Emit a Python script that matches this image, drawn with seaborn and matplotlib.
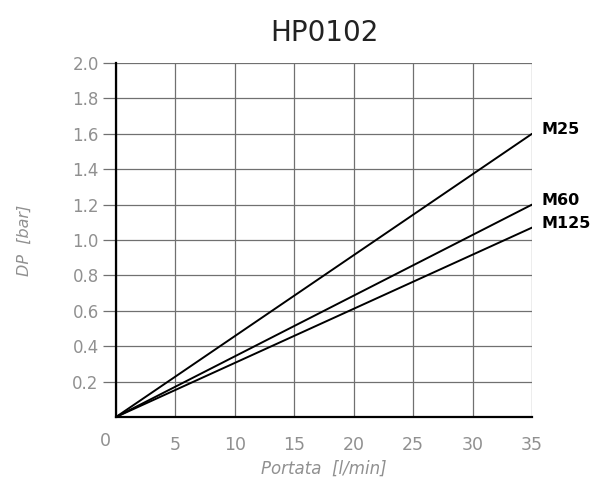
import matplotlib
matplotlib.use("Agg")
import matplotlib.pyplot as plt
import seaborn as sns
import pandas as pd

series_names = ["M25", "M60", "M125"]
flow = [0, 35]
dp_m25 = [0.0, 1.6]
dp_m60 = [0.0, 1.2]
dp_m125 = [0.0, 1.07]
x_ticks = [0, 5, 10, 15, 20, 25, 30, 35]
y_ticks = [0.2, 0.4, 0.6, 0.8, 1.0, 1.2, 1.4, 1.6, 1.8, 2.0]

rows = []
for name, vals in zip(series_names, [dp_m25, dp_m60, dp_m125]):
    for x, y in zip(flow, vals):
        rows.append({"Portata": x, "DP": y, "serie": name})
df = pd.DataFrame(rows)

sns.set_theme(style="white")
plt.rcParams['font.family'] = ['DejaVu Sans']

fig = plt.figure(figsize=(6.08, 4.83), dpi=100)
ax = fig.add_axes([116/608, 1-417/483, (532-116)/608, (417-63)/483])

sns.lineplot(data=df, x="Portata", y="DP", units="serie", estimator=None,
             color="black", lw=1.4, ax=ax, legend=False)

gray = "#909090"
ax.set_xlim(0, 35)
ax.set_ylim(0, 2.0)
ax.set_xticks(x_ticks)
ax.set_xticklabels([""] + [str(t) for t in x_ticks[1:]])
ax.set_yticks(y_ticks)
ax.set_yticklabels([f"{t:.1f}" for t in y_ticks])
ax.grid(True, color="#707070", lw=0.9)
ax.set_axisbelow(True)
for s in ["top", "right"]:
    ax.spines[s].set_visible(False)
for s in ["left", "bottom"]:
    ax.spines[s].set_color("black")
    ax.spines[s].set_linewidth(1.6)
    ax.spines[s].set_zorder(5)

ax.tick_params(axis="y", length=9.5, width=0.9, color="#707070", labelsize=12,
               labelcolor=gray, pad=3, left=True)
ax.tick_params(axis="x", length=0, labelsize=12.5, labelcolor=gray, pad=14)

ax.annotate("0", xy=(0, 0), xycoords="data", xytext=(-8, -17), textcoords="offset points",
            ha="center", va="center", fontsize=12.5, color=gray)

ax.set_xlabel("Portata  [l/min]", fontsize=12, color=gray, style="italic", labelpad=4)
ax.set_ylabel("DP  [bar]", fontsize=11.5, color=gray, style="italic", labelpad=29)
ax.set_title("HP0102", fontsize=20, color="#222222", pad=16)

for name, vals in zip(series_names, [dp_m25, dp_m60, dp_m125]):
    ax.annotate(name, xy=(flow[-1], vals[-1]), xycoords="data", xytext=(7, 3),
                textcoords="offset points", ha="left", va="center",
                fontsize=11.5, fontweight="semibold", color="black", annotation_clip=False)

fig.savefig("out.png", dpi=100)
